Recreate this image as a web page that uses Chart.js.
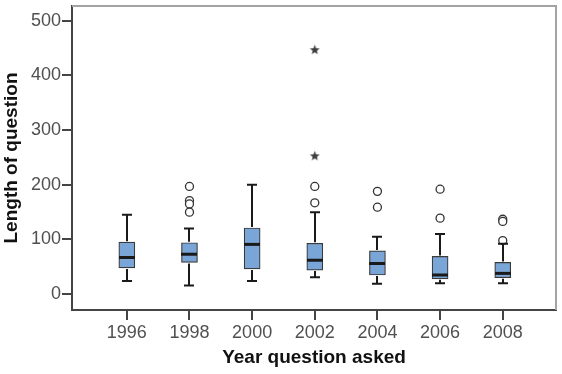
<!DOCTYPE html>
<html>
<head>
<meta charset="utf-8">
<title>Length of question by year</title>
<script src="https://cdn.jsdelivr.net/npm/chart.js@4.4.1/dist/chart.umd.min.js"></script>
<style>
html, body { margin: 0; padding: 0; background: #fff; }
</style>
</head>
<body>
<canvas id="boxChart" width="562" height="374"></canvas>
<script>
// box plot data
var years = [1996, 1998, 2000, 2002, 2004, 2006, 2008];
var lowWhisker = [24, 16, 24, 31, 19, 20, 20];
var q1 = [48, 58, 46, 44, 35, 28, 30];
var medians = [67, 73, 91, 62, 56, 35, 38];
var q3 = [95, 94, 121, 93, 79, 69, 58];
var highWhisker = [145, 120, 200, 150, 105, 110, 92];

// outliers (circles) and extremes (stars)
var outlierYears = [1998, 1998, 1998, 1998, 2002, 2002, 2004, 2004, 2006, 2006, 2008, 2008, 2008];
var outlierValues = [197, 171, 165, 150, 197, 167, 188, 159, 192, 139, 137, 133, 98];
var extremeYears = [2002, 2002];
var extremeValues = [447, 253];

var yTicks = [0, 100, 200, 300, 400, 500];

var boxData = years.map(function(yr, i){ return {x: yr, y: [q1[i], q3[i]]}; });
var outlierData = outlierYears.map(function(yr, i){ return {x: yr, y: outlierValues[i]}; });
var extremeData = extremeYears.map(function(yr, i){ return {x: yr, y: extremeValues[i]}; });

// small filled star used as point style for extremes
function makeStar(){
    var c = document.createElement('canvas');
    c.width = 11; c.height = 11;
    var g = c.getContext('2d');
    g.fillStyle = '#3c3c3c';
    g.beginPath();
    for (var k = 0; k < 10; k++) {
        var r = (k % 2 === 0) ? 5.2 : 2.2;
        var a = -Math.PI / 2 + k * Math.PI / 5;
        var px = 5.5 + r * Math.cos(a), py = 5.8 + r * Math.sin(a);
        if (k === 0) g.moveTo(px, py); else g.lineTo(px, py);
    }
    g.closePath();
    g.fill();
    return c;
}

// whiskers, caps, medians and the light top/right frame
var boxParts = {
    id: 'boxParts',
    afterDatasetsDraw: function(chart){
        var ctx = chart.ctx;
        var xs = chart.scales.x, ys = chart.scales.y;
        var area = chart.chartArea;
        ctx.save();
        ctx.strokeStyle = '#a3a3a3';
        ctx.lineWidth = 2;
        ctx.beginPath();
        ctx.moveTo(area.left, area.top);
        ctx.lineTo(area.right, area.top);
        ctx.lineTo(area.right, area.bottom);
        ctx.stroke();

        ctx.strokeStyle = '#1a1a1a';
        for (var i = 0; i < years.length; i++) {
            var cx = Math.round(xs.getPixelForValue(years[i]));
            var yLo = ys.getPixelForValue(lowWhisker[i]);
            var yQ1 = ys.getPixelForValue(q1[i]);
            var yQ3 = ys.getPixelForValue(q3[i]);
            var yHi = ys.getPixelForValue(highWhisker[i]);
            var yMed = ys.getPixelForValue(medians[i]);
            ctx.lineWidth = 2;
            ctx.beginPath();
            ctx.moveTo(cx, yLo); ctx.lineTo(cx, yQ1 + 1);
            ctx.moveTo(cx, yQ3 - 1); ctx.lineTo(cx, yHi);
            ctx.moveTo(cx - 5, yLo); ctx.lineTo(cx + 5, yLo);
            ctx.moveTo(cx - 5, yHi); ctx.lineTo(cx + 5, yHi);
            ctx.stroke();
            ctx.lineWidth = 3;
            ctx.beginPath();
            ctx.moveTo(cx - 8, yMed); ctx.lineTo(cx + 8, yMed);
            ctx.stroke();
        }
        ctx.restore();
    }
};

var ctx = document.getElementById('boxChart').getContext('2d');
var boxChart = new Chart(ctx, {
    type: 'bar',
    data: {
        datasets: [{
            label: 'Box',
            data: boxData,
            backgroundColor: '#79a6d6',
            borderColor: '#3a3a3a',
            borderWidth: 1.2,
            borderSkipped: false,
            barThickness: 16,
            order: 2
        }, {
            type: 'scatter',
            label: 'Outliers',
            data: outlierData,
            pointStyle: 'circle',
            pointRadius: 4,
            pointBackgroundColor: '#fff',
            pointBorderColor: '#333',
            pointBorderWidth: 1.3,
            order: 1
        }, {
            type: 'scatter',
            label: 'Extremes',
            data: extremeData,
            pointStyle: makeStar(),
            pointRadius: 5,
            order: 1
        }]
    },
    options: {
        responsive: false,
        animation: false,
        layout: { padding: { top: 4, right: 6, left: 0, bottom: 0 } },
        plugins: {
            legend: { display: false },
            tooltip: { enabled: false }
        },
        scales: {
            x: {
                type: 'linear',
                min: 1994.25,
                max: 2009.7,
                offset: false,
                afterBuildTicks: function(scale){
                    scale.ticks = years.map(function(v){ return {value: v}; });
                },
                afterFit: function(scale){
                    scale.height = 64;
                    scale.paddingLeft = 0;
                    scale.paddingRight = 0;
                },
                ticks: {
                    color: '#505050',
                    font: { family: 'Liberation Sans, Arial, sans-serif', size: 18 },
                    padding: 2,
                    maxRotation: 0,
                    callback: function(v){ return String(v); }
                },
                grid: { offset: false, drawOnChartArea: false, drawTicks: true, tickLength: 10, color: '#444', lineWidth: 2 },
                border: { display: true, color: '#444', width: 2 },
                title: {
                    display: true,
                    text: 'Year question asked',
                    color: '#111',
                    font: { family: 'Liberation Sans, Arial, sans-serif', size: 19, weight: 'bold' },
                    padding: { top: 0, bottom: 5 }
                }
            },
            y: {
                min: -29,
                max: 527,
                afterBuildTicks: function(scale){
                    scale.ticks = yTicks.map(function(v){ return {value: v}; });
                },
                afterFit: function(scale){
                    scale.width = 72;
                    scale.paddingTop = 0;
                    scale.paddingBottom = 0;
                },
                ticks: {
                    color: '#505050',
                    font: { family: 'Liberation Sans, Arial, sans-serif', size: 18 },
                    padding: 1
                },
                grid: { drawOnChartArea: false, drawTicks: true, tickLength: 10, color: '#444', lineWidth: 2 },
                border: { display: true, color: '#444', width: 2 },
                title: {
                    display: true,
                    text: 'Length of question',
                    color: '#111',
                    font: { family: 'Liberation Sans, Arial, sans-serif', size: 19, weight: 'bold' },
                    padding: { top: 0, bottom: 0 }
                }
            }
        }
    },
    plugins: [boxParts]
});
</script>
</body>
</html>
